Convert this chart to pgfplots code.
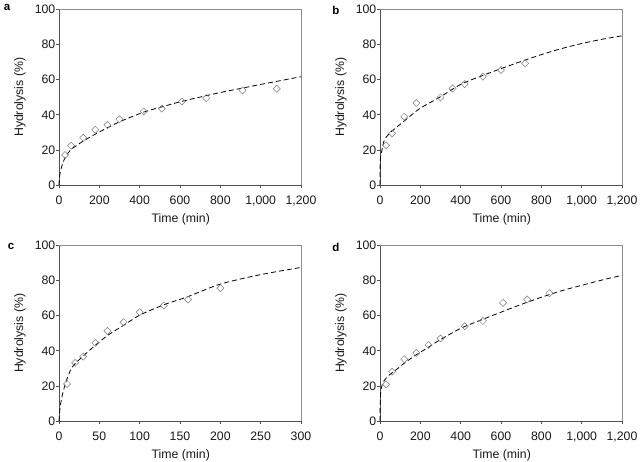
\documentclass[border=0pt]{standalone}
\usepackage{pgfplots}
\pgfplotsset{compat=1.18}
\usepackage{fontspec}
\setmainfont{Liberation Sans}
\definecolor{frameL}{HTML}{505050}
\definecolor{frameR}{HTML}{8C8C8C}
\definecolor{mk}{HTML}{7A7A7A}
\pgfplotsset{
  panel/.style={
    scale only axis, width=242pt, height=175.5pt,
    ymin=0, ymax=100, ytick={0,20,...,100},
    axis lines=left, axis line style={-, frameL, line width=0.6pt},
    tick style={frameL, line width=0.6pt},
    tick align=outside, major tick length=3pt,
    /pgf/number format/assume math mode=true,
    /pgf/number format/1000 sep={,},
    scaled ticks=false,
    tick label style={font=\fontsize{12.3}{14}\selectfont, text=black!90},
    yticklabel style={inner sep=0.5pt},
    xticklabel style={inner sep=0pt, yshift=-7.5pt},
    label style={font=\fontsize{12.3}{14}\selectfont, text=black!90},
    xlabel={Time (min)}, ylabel={Hydrolysis (\%)},
    xlabel style={at={(axis description cs:0.503,-0.195)}, anchor=center},
    ylabel style={at={(axis description cs:-0.161,0.5)}, anchor=center, rotate=0},
    clip=false,
  },
  pts/.style={only marks, mark=square, mark size=2.5pt,
    mark options={draw=mk, fill=white, rotate=45, line width=0.5pt}},
  fit/.style={no marks, smooth, black, line width=0.8pt, dash pattern=on 5pt off 3pt},
}
\newcommand{\topright}{\draw[frameR, line width=0.6pt] (rel axis cs:0,1) -- (rel axis cs:1,1) -- (rel axis cs:1,0);}
\begin{document}
\begin{tikzpicture}[x=1pt,y=1pt]
\path[use as bounding box] (0,0) rectangle (642,462);
% panel a
\begin{axis}[panel, at={(59pt,277pt)}, anchor=south west,
  xmin=0, xmax=1200, xtick={0,200,...,1200}]
\topright
\addplot[fit] coordinates {(0,0) (1,2.8) (2,4) (5,6.5) (13,10.4) (25,14.3) (38,17.2) (63,20.5) (104,23.8) (145,26.7) (200,30.2) (300,36) (420,41.5) (500,44.2) (600,47.4) (700,50.1) (800,52.7) (900,55) (1000,57.3) (1100,59.5) (1200,61.7)};
\addplot[pts] coordinates {(30,17.1) (60,22.4) (120,26.9) (180,31.5) (240,34.2) (300,37.4) (420,41.9) (510,43.5) (610,47.6) (730,49.5) (910,53.9) (1080,54.8)};
\end{axis}
% panel b
\begin{axis}[panel, at={(380pt,277pt)}, anchor=south west,
  xmin=0, xmax=1200, xtick={0,200,...,1200}]
\topright
\addplot[fit] coordinates {(0,0) (0.5,9) (1,12.3) (3,16.5) (10,20) (21,25.4) (46,29.3) (96,34.2) (145,38.8) (195,43.4) (300,50.3) (400,57.3) (500,62) (600,66.3) (700,70.4) (800,74.3) (900,77.7) (1000,80.6) (1100,83) (1200,85)};
\addplot[pts] coordinates {(30,22.6) (60,29.4) (120,38.9) (180,46.7) (300,49.9) (360,55) (420,57.5) (510,61.7) (600,65.5) (720,69.3)};
\end{axis}
% panel c
\begin{axis}[panel, at={(59pt,41pt)}, anchor=south west,
  xmin=0, xmax=300, xtick={0,50,...,300}]
\topright
\addplot[fit] coordinates {(0,0) (1.2,7.2) (2.5,11) (4.1,14.8) (7.4,20.5) (11.6,26) (15.7,30.3) (21.9,33.6) (30,37) (44.6,43) (61,49) (80,54.5) (100,60.3) (130,66.2) (160,70.9) (200,78) (250,83.4) (300,87.5)};
\addplot[pts] coordinates {(10,21.1) (20,33.1) (30,36.7) (45,44.5) (60,51.3) (80,56.3) (100,62) (130,65.8) (160,69.2) (200,75.7)};
\end{axis}
% panel d
\begin{axis}[panel, at={(380pt,41pt)}, anchor=south west,
  xmin=0, xmax=1200, xtick={0,200,...,1200}]
\topright
\addplot[fit] coordinates {(0,0) (1,10) (3,15.5) (5,17.7) (16,22.2) (46,26.2) (79,29.1) (120,32.9) (178,37.6) (244,42.3) (294,46) (400,52.8) (500,57.5) (600,62) (700,66.4) (800,70.5) (900,74.2) (1000,77.3) (1100,80.3) (1200,83)};
\addplot[pts] coordinates {(30,20.9) (60,28.1) (120,35.2) (180,38.8) (240,43.3) (300,47) (420,54) (510,57) (610,67.3) (730,69.2) (840,72.8)};
\end{axis}
\node[font=\bfseries\fontsize{11.5}{13}\selectfont] at (7,454.5) {a};
\node[font=\bfseries\fontsize{11.5}{13}\selectfont] at (336,451.5) {b};
\node[font=\bfseries\fontsize{11.5}{13}\selectfont] at (11,215.5) {c};
\node[font=\bfseries\fontsize{11.5}{13}\selectfont] at (336,214.5) {d};
\end{tikzpicture}
\end{document}
